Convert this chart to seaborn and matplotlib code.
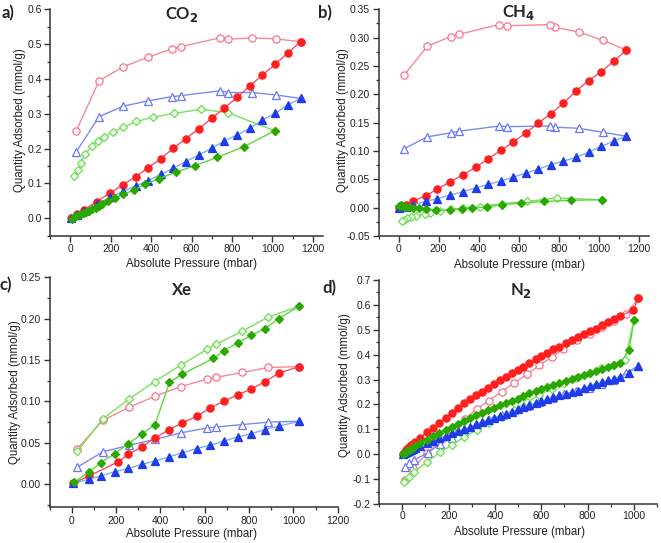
import numpy as np
import pandas as pd
import seaborn as sns
import matplotlib
matplotlib.use('Agg')
import matplotlib.pyplot as plt
from matplotlib.ticker import MultipleLocator, AutoMinorLocator

# ---------------- data ----------------
# CO2
co2_red_ads_x = [2, 35, 68, 130, 196, 260, 323, 385, 448, 510, 572, 636, 700, 761, 825, 888, 950, 1013, 1075, 1139]
co2_red_ads_y = [0.000, 0.012, 0.024, 0.048, 0.072, 0.096, 0.119, 0.145, 0.171, 0.201, 0.229, 0.257, 0.287, 0.316, 0.347, 0.380, 0.411, 0.442, 0.474, 0.507]
co2_red_des_x = [1139, 1019, 901, 782, 740, 546, 501, 383, 263, 143, 30]
co2_red_des_y = [0.507, 0.515, 0.518, 0.514, 0.518, 0.493, 0.486, 0.462, 0.435, 0.395, 0.251]
co2_blue_ads_x = [2, 35, 68, 130, 196, 260, 323, 385, 448, 510, 572, 636, 700, 761, 825, 888, 950, 1013, 1075, 1139]
co2_blue_ads_y = [0.000, 0.010, 0.020, 0.040, 0.060, 0.077, 0.093, 0.108, 0.126, 0.144, 0.163, 0.182, 0.201, 0.222, 0.239, 0.258, 0.282, 0.301, 0.325, 0.344]
co2_blue_des_x = [1139, 1019, 901, 782, 740, 546, 501, 383, 263, 143, 30]
co2_blue_des_y = [0.344, 0.354, 0.361, 0.361, 0.366, 0.352, 0.349, 0.337, 0.322, 0.292, 0.191]
co2_green_ads_x = [8, 20, 30, 42, 55, 68, 80, 95, 110, 125, 140, 158, 185, 222, 263, 316, 370, 441, 521, 616, 727, 860, 1011]
co2_green_ads_y = [-0.003, 0.003, 0.007, 0.010, 0.012, 0.015, 0.018, 0.022, 0.026, 0.030, 0.034, 0.040, 0.049, 0.058, 0.069,
                   0.081, 0.098, 0.114, 0.132, 0.151, 0.175, 0.206, 0.251]
co2_green_des_x = [1011, 782, 648, 513, 411, 326, 263, 214, 169, 136, 107, 74, 54, 38, 21]
co2_green_des_y = [0.251, 0.303, 0.313, 0.301, 0.290, 0.278, 0.261, 0.249, 0.234, 0.222, 0.208, 0.185, 0.160, 0.139, 0.120]

# CH4
ch4_red_ads_x = [2, 35, 70, 136, 194, 257, 320, 385, 446, 511, 573, 636, 697, 760, 822, 886, 949, 1012, 1076, 1137]
ch4_red_ads_y = [0.000, 0.005, 0.011, 0.021, 0.033, 0.045, 0.058, 0.071, 0.086, 0.101, 0.116, 0.132, 0.149, 0.166, 0.184, 0.206, 0.224, 0.240, 0.259, 0.278]
ch4_red_des_x = [1137, 1021, 900, 782, 755, 543, 501, 304, 261, 144, 28]
ch4_red_des_y = [0.278, 0.295, 0.310, 0.318, 0.323, 0.321, 0.323, 0.306, 0.302, 0.285, 0.234]
ch4_blue_ads_x = [2, 35, 70, 136, 194, 257, 320, 385, 446, 511, 573, 636, 697, 760, 822, 886, 949, 1012, 1076, 1137]
ch4_blue_ads_y = [0.000, 0.002, 0.005, 0.011, 0.016, 0.022, 0.028, 0.035, 0.041, 0.047, 0.054, 0.061, 0.068, 0.076, 0.082, 0.089, 0.098, 0.108, 0.118, 0.126]
ch4_blue_des_x = [1137, 1021, 900, 782, 755, 543, 501, 304, 261, 144, 28]
ch4_blue_des_y = [0.126, 0.133, 0.140, 0.142, 0.144, 0.143, 0.144, 0.135, 0.132, 0.125, 0.104]
ch4_green_ads_x = [3, 10, 18, 27, 36, 47, 70, 100, 136, 186, 257, 319, 368, 440, 515, 609, 727, 860, 1017]
ch4_green_ads_y = [0.003, 0.004, 0.003, 0.002, 0.002, 0.001, 0.000, -0.001, -0.002, -0.005, -0.004, -0.002, 0.000, 0.001,
                   0.005, 0.008, 0.011, 0.013, 0.014]
ch4_green_des_x = [1017, 790, 640, 515, 407, 320, 261, 207, 158, 133, 88, 60, 40, 25, 15]
ch4_green_des_y = [0.014, 0.017, 0.011, 0.007, 0.002, -0.001, -0.003, -0.006, -0.009, -0.011, -0.014, -0.017, -0.019, -0.021, -0.023]

# Xe
xe_red_ads_x = [5, 80, 210, 256, 316, 376, 441, 499, 564, 624, 686, 749, 811, 872, 934, 1026]
xe_red_ads_y = [0.001, 0.010, 0.027, 0.036, 0.045, 0.056, 0.066, 0.074, 0.082, 0.092, 0.100, 0.108, 0.115, 0.124, 0.134, 0.142]
xe_red_des_x = [1026, 887, 770, 651, 612, 493, 374, 260, 140, 26]
xe_red_des_y = [0.142, 0.141, 0.135, 0.129, 0.127, 0.118, 0.106, 0.093, 0.077, 0.043]
xe_blue_ads_x = [8, 80, 131, 195, 256, 319, 376, 441, 499, 564, 624, 686, 749, 811, 872, 934, 1026]
xe_blue_ads_y = [0.001, 0.006, 0.010, 0.015, 0.019, 0.024, 0.028, 0.033, 0.038, 0.043, 0.047, 0.052, 0.057, 0.061, 0.066, 0.070, 0.076]
xe_blue_des_x = [1026, 887, 770, 651, 612, 493, 374, 260, 140, 26]
xe_blue_des_y = [0.076, 0.075, 0.072, 0.069, 0.068, 0.062, 0.054, 0.047, 0.039, 0.0205]
xe_green_ads_x = [10, 80, 131, 195, 256, 319, 376, 441, 499, 639, 686, 749, 811, 872, 934, 1026]
xe_green_ads_y = [0.002, 0.015, 0.026, 0.037, 0.049, 0.061, 0.072, 0.123, 0.133, 0.152, 0.161, 0.171, 0.180, 0.188, 0.200, 0.215]
xe_green_des_x = [1026, 887, 770, 651, 612, 493, 374, 260, 140, 26]
xe_green_des_y = [0.215, 0.202, 0.185, 0.169, 0.163, 0.144, 0.124, 0.103, 0.079, 0.0395]

# N2
n2_red_ads_x = [2, 6, 10, 15, 20, 25, 30, 37, 45, 55, 76, 105, 134, 160, 187, 213, 242, 268, 292, 318, 345, 371, 397,
                422, 447, 472, 498, 522, 548, 576, 599, 626, 652, 678, 705, 731, 757, 784, 810, 836, 863, 889, 915, 942,
                997, 1019]
n2_red_ads_y = [0.002, 0.006, 0.010, 0.015, 0.020, 0.025, 0.030, 0.036, 0.042, 0.049, 0.066, 0.089, 0.107, 0.127, 0.147,
                0.167, 0.187, 0.204, 0.220, 0.236, 0.252, 0.268, 0.284, 0.299, 0.312, 0.325, 0.339, 0.352, 0.365, 0.381,
                0.394, 0.408, 0.421, 0.432, 0.445, 0.458, 0.470, 0.483, 0.494, 0.505, 0.518, 0.530, 0.543, 0.556, 0.578,
                0.627]
n2_red_des_x = [1019, 968, 914, 861, 810, 753, 695, 645, 592, 537, 483, 429, 373, 322, 270, 215, 160, 108, 45, 12]
n2_red_des_y = [0.627, 0.563, 0.535, 0.510, 0.484, 0.457, 0.421, 0.390, 0.357, 0.321, 0.286, 0.252, 0.215, 0.182, 0.140,
                0.095, 0.050, 0.005, -0.057, -0.104]
n2_blue_ads_x = [2, 6, 10, 15, 20, 25, 30, 37, 45, 55, 76, 105, 134, 160, 187, 213, 242, 268, 292, 318, 345, 371, 397,
                 422, 447, 472, 498, 522, 548, 576, 599, 626, 652, 678, 705, 731, 757, 784, 810, 836, 863, 889, 915, 942,
                 980, 1019]
n2_blue_ads_y = [0.001, 0.003, 0.005, 0.007, 0.009, 0.011, 0.013, 0.016, 0.020, 0.025, 0.034, 0.045, 0.055, 0.064, 0.074,
                 0.085, 0.094, 0.102, 0.110, 0.120, 0.130, 0.139, 0.147, 0.155, 0.162, 0.171, 0.180, 0.189, 0.197, 0.206,
                 0.213, 0.222, 0.229, 0.236, 0.243, 0.249, 0.256, 0.267, 0.276, 0.283, 0.290, 0.297, 0.303, 0.310, 0.328,
                 0.355]
n2_blue_des_x = [1019, 965, 910, 858, 805, 752, 700, 645, 592, 537, 483, 430, 375, 322, 268, 215, 162, 109, 49, 30, 10]
n2_blue_des_y = [0.355, 0.325, 0.300, 0.283, 0.268, 0.254, 0.240, 0.224, 0.208, 0.192, 0.176, 0.158, 0.138, 0.116, 0.092,
                 0.067, 0.040, 0.006, -0.025, -0.035, -0.052]
n2_green_ads_x = [2, 6, 10, 15, 20, 25, 30, 37, 45, 55, 76, 105, 134, 160, 187, 213, 242, 268, 292, 318, 345, 371, 397,
                  422, 447, 472, 498, 522, 548, 576, 599, 626, 652, 678, 705, 731, 757, 784, 810, 836, 863, 889, 915, 942,
                  980, 1000]
n2_green_ads_y = [0.000, 0.003, 0.006, 0.009, 0.012, 0.015, 0.018, 0.022, 0.027, 0.032, 0.045, 0.059, 0.072, 0.085, 0.097,
                  0.109, 0.122, 0.134, 0.145, 0.156, 0.166, 0.176, 0.186, 0.196, 0.205, 0.214, 0.223, 0.232, 0.245, 0.255,
                  0.263, 0.272, 0.280, 0.288, 0.296, 0.304, 0.312, 0.320, 0.328, 0.336, 0.344, 0.352, 0.360, 0.368, 0.418,
                  0.538]
n2_green_des_x = [1000, 961, 910, 858, 805, 752, 700, 645, 592, 537, 483, 430, 375, 322, 268, 215, 162, 108, 50, 28, 8]
n2_green_des_y = [0.538, 0.377, 0.360, 0.345, 0.327, 0.307, 0.288, 0.264, 0.238, 0.208, 0.178, 0.150, 0.127, 0.098, 0.069,
                  0.038, 0.007, -0.030, -0.072, -0.090, -0.110]

# ---------------- styling ----------------
sns.set_style('ticks')
plt.rcParams['font.family'] = ['Liberation Sans', 'DejaVu Sans']

W, H = 661, 543
fig = plt.figure(figsize=(W / 100, H / 100), dpi=100)

# series styles: (marker, face, edge, line colour, size)
STYLE = {
    'red_ads': ('o', '#ff1f1f', '#ff1f1f', '#f2506a', 5.2),
    'red_des': ('o', 'white', '#f9728c', '#f7889a', 5.2),
    'blue_ads': ('^', '#1f3ce8', '#1f3ce8', '#7fb0e8', 5.6),
    'blue_des': ('^', 'white', '#6a78f0', '#7c88f0', 5.6),
    'green_ads': ('D', '#2aa800', '#2aa800', '#5ed83c', 4.2),
    'green_des': ('D', 'white', '#66e04a', '#79e25a', 4.2),
}
ORDER = ['red_des', 'blue_des', 'green_des', 'red_ads', 'blue_ads', 'green_ads']


def px_axes(left, right, top, bottom):
    return fig.add_axes([left / W, 1 - bottom / H, (right - left) / W, (bottom - top) / H])


def ftext(x, y, s, **kw):
    fig.text(x / W, 1 - y / H, s, **kw)


def draw(ax, series):
    for key in ORDER:
        x, y = series[key]
        m, fc, ec, lc, ms = STYLE[key]
        df = pd.DataFrame({'p': x, 'q': y})
        sns.lineplot(data=df, x='p', y='q', sort=False, estimator=None, ax=ax, color=lc, lw=1.0,
                     marker=m, markersize=ms, markerfacecolor=fc, markeredgecolor=ec, markeredgewidth=0.9)


def style_axes(ax, xlim, ylim, xmaj, ymaj, yfmt, xpad=2):
    ax.set_xlim(*xlim)
    ax.set_ylim(*ylim)
    ax.xaxis.set_major_locator(MultipleLocator(xmaj))
    ax.yaxis.set_major_locator(MultipleLocator(ymaj))
    ax.xaxis.set_minor_locator(AutoMinorLocator(2))
    ax.yaxis.set_minor_locator(AutoMinorLocator(2))
    ax.yaxis.set_major_formatter(plt.FormatStrFormatter(yfmt))
    sns.despine(ax=ax)
    for s in ['left', 'bottom']:
        ax.spines[s].set_color('#333333')
        ax.spines[s].set_linewidth(1.1)
    ax.tick_params(which='major', direction='out', length=4, width=1.0, color='#333333',
                   labelsize=7.5, pad=2, labelcolor='#222222')
    ax.tick_params(axis='x', which='major', pad=xpad)
    ax.tick_params(which='minor', direction='out', length=2.2, width=0.9, color='#333333')
    ax.set_xlabel('')
    ax.set_ylabel('')
    ax.set_facecolor('white')


label_kw = dict(fontsize=8.3, color='#222222', ha='center', va='center')
XLAB = 'Absolute Pressure (mbar)'
YLAB = 'Quantity Adsorbed (mmol/g)'

# panel a: CO2
ax_a = px_axes(50, 323, 9.3, 235.7)
draw(ax_a, {'red_ads': (co2_red_ads_x, co2_red_ads_y), 'red_des': (co2_red_des_x, co2_red_des_y),
             'blue_ads': (co2_blue_ads_x, co2_blue_ads_y), 'blue_des': (co2_blue_des_x, co2_blue_des_y),
             'green_ads': (co2_green_ads_x, co2_green_ads_y), 'green_des': (co2_green_des_x, co2_green_des_y)})
style_axes(ax_a, (-100, 1250), (-0.05, 0.6), 200, 0.1, '%.1f')
ftext(191, 264, XLAB, **label_kw)
ftext(20, 120, YLAB, rotation=90, **label_kw)

# panel b: CH4
ax_b = px_axes(378.5, 649, 9.3, 236)
draw(ax_b, {'red_ads': (ch4_red_ads_x, ch4_red_ads_y), 'red_des': (ch4_red_des_x, ch4_red_des_y),
             'blue_ads': (ch4_blue_ads_x, ch4_blue_ads_y), 'blue_des': (ch4_blue_des_x, ch4_blue_des_y),
             'green_ads': (ch4_green_ads_x, ch4_green_ads_y), 'green_des': (ch4_green_des_x, ch4_green_des_y)})
style_axes(ax_b, (-100, 1250), (-0.05, 0.35), 200, 0.05, '%.2f')
ftext(520, 265, XLAB, **label_kw)
ftext(343, 120, YLAB, rotation=90, **label_kw)

# panel c: Xe
ax_c = px_axes(49.5, 337.7, 277.3, 507.3)
draw(ax_c, {'red_ads': (xe_red_ads_x, xe_red_ads_y), 'red_des': (xe_red_des_x, xe_red_des_y),
             'blue_ads': (xe_blue_ads_x, xe_blue_ads_y), 'blue_des': (xe_blue_des_x, xe_blue_des_y),
             'green_ads': (xe_green_ads_x, xe_green_ads_y), 'green_des': (xe_green_des_x, xe_green_des_y)})
style_axes(ax_c, (-100, 1200), (-0.028, 0.25), 200, 0.05, '%.2f')
ftext(191, 534, XLAB, **label_kw)
ftext(15, 392, YLAB, rotation=90, **label_kw)

# panel d: N2
ax_d = px_axes(379.2, 657, 280, 504)
draw(ax_d, {'red_ads': (n2_red_ads_x, n2_red_ads_y), 'red_des': (n2_red_des_x, n2_red_des_y),
             'blue_ads': (n2_blue_ads_x, n2_blue_ads_y), 'blue_des': (n2_blue_des_x, n2_blue_des_y),
             'green_ads': (n2_green_ads_x, n2_green_ads_y), 'green_des': (n2_green_des_x, n2_green_des_y)})
style_axes(ax_d, (-100, 1100), (-0.2, 0.7), 200, 0.1, '%.1f', xpad=1)
ftext(520, 532, XLAB, **label_kw)
ftext(345, 385, YLAB, rotation=90, **label_kw)

title_kw = dict(fontsize=12, fontweight='bold', family=['Lato', 'DejaVu Sans'], ha='center', va='center')
ftext(182, 14, 'CO$_\\mathbf{2}$', **title_kw)
ftext(519, 12, 'CH$_\\mathbf{4}$', **title_kw)
ftext(182, 290, 'Xe', **title_kw)
ftext(521, 290, 'N$_\\mathbf{2}$', **title_kw)

letter_kw = dict(fontsize=12, fontweight='bold', family=['Lato', 'DejaVu Sans'], ha='left', va='center')
ftext(2, 13, 'a)', **letter_kw)
ftext(318, 13, 'b)', **letter_kw)
ftext(0, 285, 'c)', **letter_kw)
ftext(322, 288, 'd)', **letter_kw)

fig.savefig('out.png', dpi=100, facecolor='white')
